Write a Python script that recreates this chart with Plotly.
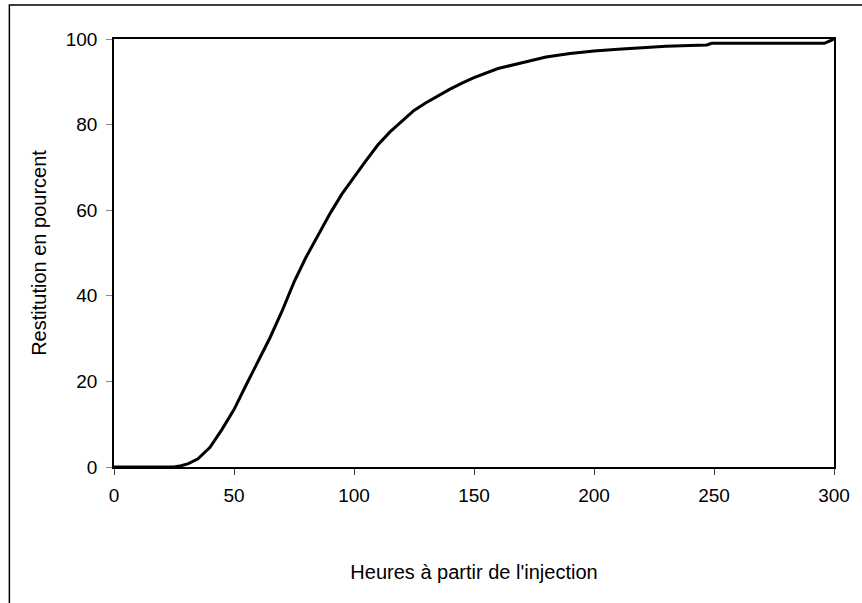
import plotly.graph_objects as go

hours = [0, 5, 10, 15, 20, 25, 28, 31, 35, 40, 45, 50, 55, 60, 65, 70, 75, 80, 85, 90,
         95, 100, 105, 110, 115, 120, 125, 130, 135, 140, 145, 150, 160, 170, 180, 190,
         200, 210, 220, 230, 240, 247, 249, 260, 270, 280, 290, 296, 300]
restitution = [0, 0, 0, 0, 0, 0, 0.3, 0.8, 1.9, 4.6, 8.8, 13.4, 19.1, 24.8, 30.2, 36.4,
               43.2, 49.0, 54.0, 59.2, 63.8, 67.8, 71.6, 75.3, 78.3, 80.8, 83.3, 85.1,
               86.8, 88.3, 89.7, 91.0, 93.1, 94.5, 95.8, 96.6, 97.2, 97.6, 98.0, 98.3,
               98.5, 98.6, 99.0, 99.0, 99.0, 99.0, 99.0, 99.0, 100]

x_title = "Heures à partir de l'injection"
y_title = "Restitution en pourcent"

FONT = "Liberation Sans, Arial, sans-serif"

fig = go.Figure()
fig.add_trace(go.Scatter(x=hours, y=restitution, mode="lines",
                         line=dict(color="black", width=3), showlegend=False))

W, H = 862, 603
L, R, T, B = 113.5, 22.5, 39, 136.3
pw = W - L - R
ph = H - T - B

def px_x(p):
    return (p - L) / pw

def px_y(p):
    return (H - B - p) / ph

fig.update_layout(
    width=W, height=H,
    margin=dict(l=L, r=R, t=T, b=B, pad=0),
    paper_bgcolor="white", plot_bgcolor="white",
    font=dict(family=FONT, size=19, color="black"),
    xaxis=dict(range=[0, 300], dtick=50, showgrid=False, zeroline=False,
               showline=True, linecolor="black", linewidth=1.5, mirror=True,
               ticks="outside", ticklen=6, tickwidth=1.3, tickcolor="#444",
               ticklabelstandoff=4,
               title=dict(text=x_title, font=dict(size=20), standoff=60)),
    xaxis2=dict(range=[0, 300], dtick=25, overlaying="x", anchor="y", side="bottom",
                showgrid=False, zeroline=False, showline=False, showticklabels=False,
                ticks="inside", ticklen=6, tickwidth=1.3, tickcolor="#444"),
    yaxis=dict(range=[0, 100], dtick=20, showgrid=False, zeroline=False,
               showline=True, linecolor="black", linewidth=1.5, mirror=True,
               ticks="outside", ticklen=6, tickwidth=1.3, tickcolor="#888",
               ticklabelstandoff=5,
               title=dict(text=y_title, font=dict(size=20), standoff=14)),
    shapes=[dict(type="rect", xref="paper", yref="paper",
                 x0=px_x(8), x1=px_x(W + 20), y0=px_y(H + 20), y1=px_y(5),
                 line=dict(color="black", width=1.5), fillcolor="rgba(0,0,0,0)",
                 layer="below")],
)

fig.write_html("out.html", config={"displayModeBar": False},
               post_script="document.body.style.margin='0';document.body.style.overflow='hidden';")
